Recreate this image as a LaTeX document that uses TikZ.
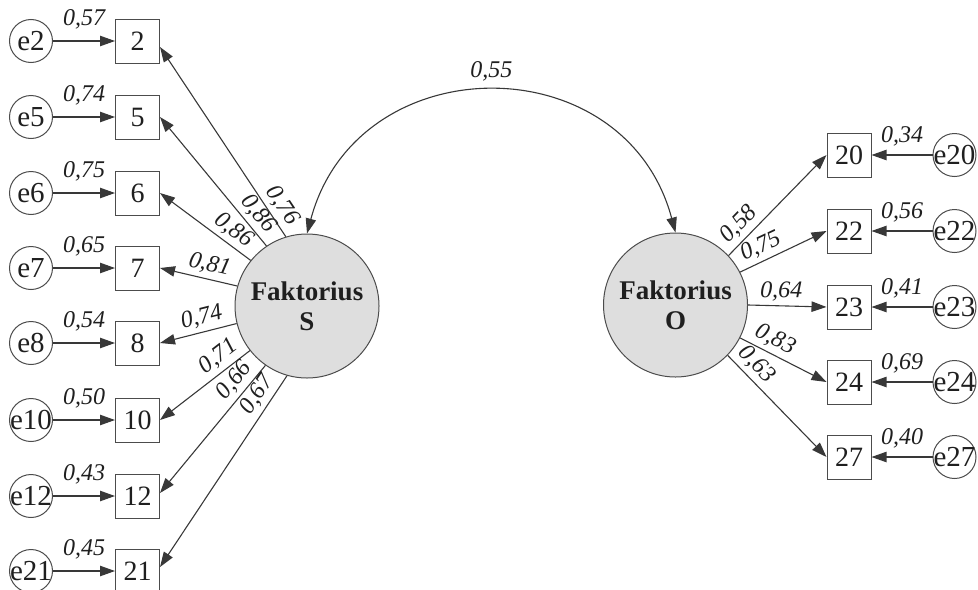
\documentclass[tikz,border=0pt]{standalone}
\usepackage{fontspec}
\setmainfont{Liberation Serif}
\usetikzlibrary{arrows.meta}
\begin{document}
\begin{tikzpicture}[x=0.5pt,y=-0.5pt,
  every node/.style={text=black!88},
  line/.style={draw=black!78, line width=0.55pt},
  arr/.style={line, -{Triangle[length=7.5pt,width=5.2pt]}},
  dbl/.style={line, {Triangle[length=7.5pt,width=5.2pt]}-{Triangle[length=7.5pt,width=5.2pt]}},
  obs/.style={draw=black!70, line width=0.5pt, minimum size=22pt, inner sep=0pt, font=\fontsize{14}{15}\selectfont},
  err/.style={circle, draw=black!70, line width=0.5pt, minimum size=21.5pt, inner sep=0pt, font=\fontsize{14.5}{15}\selectfont},
  lat/.style={circle, draw=black!70, fill=black!13, line width=0.5pt, minimum size=72pt, inner sep=0pt, font=\fontsize{13.5}{15}\selectfont\bfseries, align=center},
  lab/.style={font=\fontsize{12}{13}\selectfont\itshape, inner sep=2pt},
]
\clip (0,0) rectangle (978,589);

% latent factors
\node[lat] (S) at (307,306) {Faktorius\\S};
\node[lat] (O) at (675.5,305) {Faktorius\\O};

% left indicators
\node[obs] (b2)  at (137.5,41)  {2};
\node[obs] (b5)  at (137.5,117) {5};
\node[obs] (b6)  at (137.5,193) {6};
\node[obs] (b7)  at (137.5,268) {7};
\node[obs] (b8)  at (137.5,343) {8};
\node[obs] (b10) at (137.5,420) {10};
\node[obs] (b12) at (137.5,496) {12};
\node[obs] (b21) at (137.5,571) {21};

\node[err] (e2)  at (31,41)  {\makebox[0pt]{e2}};
\node[err] (e5)  at (31,117) {\makebox[0pt]{e5}};
\node[err] (e6)  at (31,193) {\makebox[0pt]{e6}};
\node[err] (e7)  at (31,268) {\makebox[0pt]{e7}};
\node[err] (e8)  at (31,343) {\makebox[0pt]{e8}};
\node[err] (e10) at (31,420) {\makebox[0pt]{e10}};
\node[err] (e12) at (31,496) {\makebox[0pt]{e12}};
\node[err] (e21) at (31,571) {\makebox[0pt]{e21}};

\draw[arr] (e2)  -- (b2)  node[lab, midway, above=3.5pt] {0,57};
\draw[arr] (e5)  -- (b5)  node[lab, midway, above=3.5pt] {0,74};
\draw[arr] (e6)  -- (b6)  node[lab, midway, above=3.5pt] {0,75};
\draw[arr] (e7)  -- (b7)  node[lab, midway, above=3.5pt] {0,65};
\draw[arr] (e8)  -- (b8)  node[lab, midway, above=3.5pt] {0,54};
\draw[arr] (e10) -- (b10) node[lab, midway, above=3.5pt] {0,50};
\draw[arr] (e12) -- (b12) node[lab, midway, above=3.5pt] {0,43};
\draw[arr] (e21) -- (b21) node[lab, midway, above=3.5pt] {0,45};

% right indicators
\node[obs] (b20) at (849,155) {20};
\node[obs] (b22) at (849,231) {22};
\node[obs] (b23) at (849,307) {23};
\node[obs] (b24) at (849,382) {24};
\node[obs] (b27) at (849,457) {27};

\node[err] (e20) at (954.5,155) {\makebox[0pt]{e20}};
\node[err] (e22) at (954.5,231) {\makebox[0pt]{e22}};
\node[err] (e23) at (954.5,307) {\makebox[0pt]{e23}};
\node[err] (e24) at (954.5,382) {\makebox[0pt]{e24}};
\node[err] (e27) at (954.5,457) {\makebox[0pt]{e27}};

\draw[arr] (e20) -- (b20) node[lab, midway, above=2pt] {0,34};
\draw[arr] (e22) -- (b22) node[lab, midway, above=2pt] {0,56};
\draw[arr] (e23) -- (b23) node[lab, midway, above=2pt] {0,41};
\draw[arr] (e24) -- (b24) node[lab, midway, above=2pt] {0,69};
\draw[arr] (e27) -- (b27) node[lab, midway, above=2pt] {0,40};

% loadings S
\draw[arr] (S.107) -- ([yshift=-3pt]b2.east) node[lab, sloped, above, pos=0.12] {0,76};
\draw[arr] (S.124) -- (b5.east)  node[lab, sloped, above, pos=0.18] {0,86};
\draw[arr] (S.141) -- (b6.east)  node[lab, sloped, above, pos=0.28] {0,86};
\draw[arr] (S.164) -- (b7.east)  node[lab, sloped, above, pos=0.40] {0,81};
\draw[arr] (S.194) -- (b8.east)  node[lab, sloped, above, pos=0.41] {0,74};
\draw[arr] (S.218) -- (b10.east) node[lab, sloped, above, pos=0.25] {0,71};
\draw[arr] (S.235) -- ([yshift=1.5pt]b12.east) node[lab, sloped, above, pos=0.19] {0,66};
\draw[arr] (S.254) -- ([yshift=2pt]b21.east) node[lab, sloped, above, pos=0.14] {0,67};

% loadings O
\draw[arr] (O.43)  -- (b20.west) node[lab, sloped, above, pos=0.21] {0,58};
\draw[arr] (O.27)  -- (b22.west) node[lab, sloped, above, pos=0.31] {0,75};
\draw[arr] (O.0)   -- (b23.west) node[lab, sloped, above, pos=0.42] {0,64};
\draw[arr] (O.333) -- (b24.west) node[lab, sloped, above, pos=0.33] {0,83};
\draw[arr] (O.316) -- (b27.west) node[lab, sloped, above, pos=0.19] {0,63};

% correlation
\draw[dbl] (S.90) .. controls +(50.5,-188.4) and +(-50.5,-188.4) .. (O.90)
  node[lab, pos=0.5, above=3pt] {0,55};
\end{tikzpicture}
\end{document}
